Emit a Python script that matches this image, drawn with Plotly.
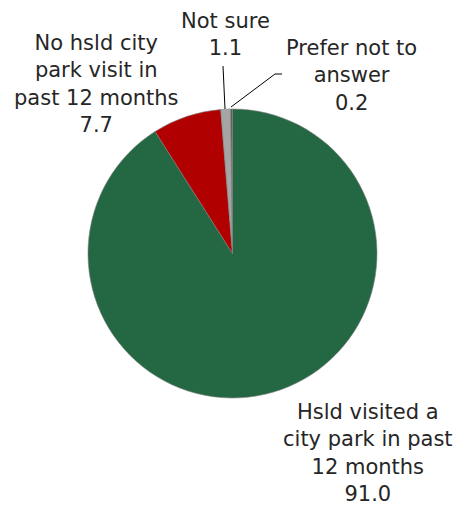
import plotly.graph_objects as go

labels = ["Hsld visited a<br>city park in past<br>12 months",
          "No hsld city<br>park visit in<br>past 12 months",
          "Not sure",
          "Prefer not to<br>answer"]
values = [91.0, 7.7, 1.1, 0.2]
colors = ["#236843", "#B00000", "#A5A5A5", "#595959"]

W, H = 456, 505
def px(x):
    return x / W
def py(y):
    return 1 - y / H

cx, cy, r = 232.5, 253.5, 144.5

fig = go.Figure(go.Pie(
    labels=labels, values=values, sort=False, direction="clockwise", rotation=0,
    marker=dict(colors=colors, line=dict(color="#7F7F7F", width=0.6)),
    textinfo="none", hoverinfo="label+value", showlegend=False,
    domain=dict(x=[px(cx - r), px(cx + r)], y=[py(cy + r), py(cy - r)]),
))

# label anchor positions (screen pixels): center x, cap-top y
label_pos = [(368, 404), (96, 35), (225, 13), (351, 40)]
font = dict(family="DejaVu Sans", size=21, color="#262626")
for (lx, ly), lab, v in zip(label_pos, labels, values):
    fig.add_annotation(x=px(lx), y=py(ly - 6), xref="paper", yref="paper",
                       text=f"{lab}<br>{v:.1f}", showarrow=False,
                       xanchor="center", yanchor="top", align="center", font=font)

# leader lines
fig.add_shape(type="line", xref="paper", yref="paper",
              x0=px(223), y0=py(66), x1=px(225), y1=py(109),
              line=dict(color="#000000", width=1))
fig.add_shape(type="path", xref="paper", yref="paper",
              path=f"M {px(231)},{py(107)} L {px(275)},{py(74)} L {px(282)},{py(74)}",
              line=dict(color="#000000", width=1))

fig.update_layout(width=W, height=H, margin=dict(l=0, r=0, t=0, b=0),
                  paper_bgcolor="white", plot_bgcolor="white")
fig.write_html("out.html", config={"displayModeBar": False},
               post_script="document.body.style.margin='0';"
                           "document.documentElement.style.overflow='hidden';"
                           "document.body.style.overflow='hidden';")
